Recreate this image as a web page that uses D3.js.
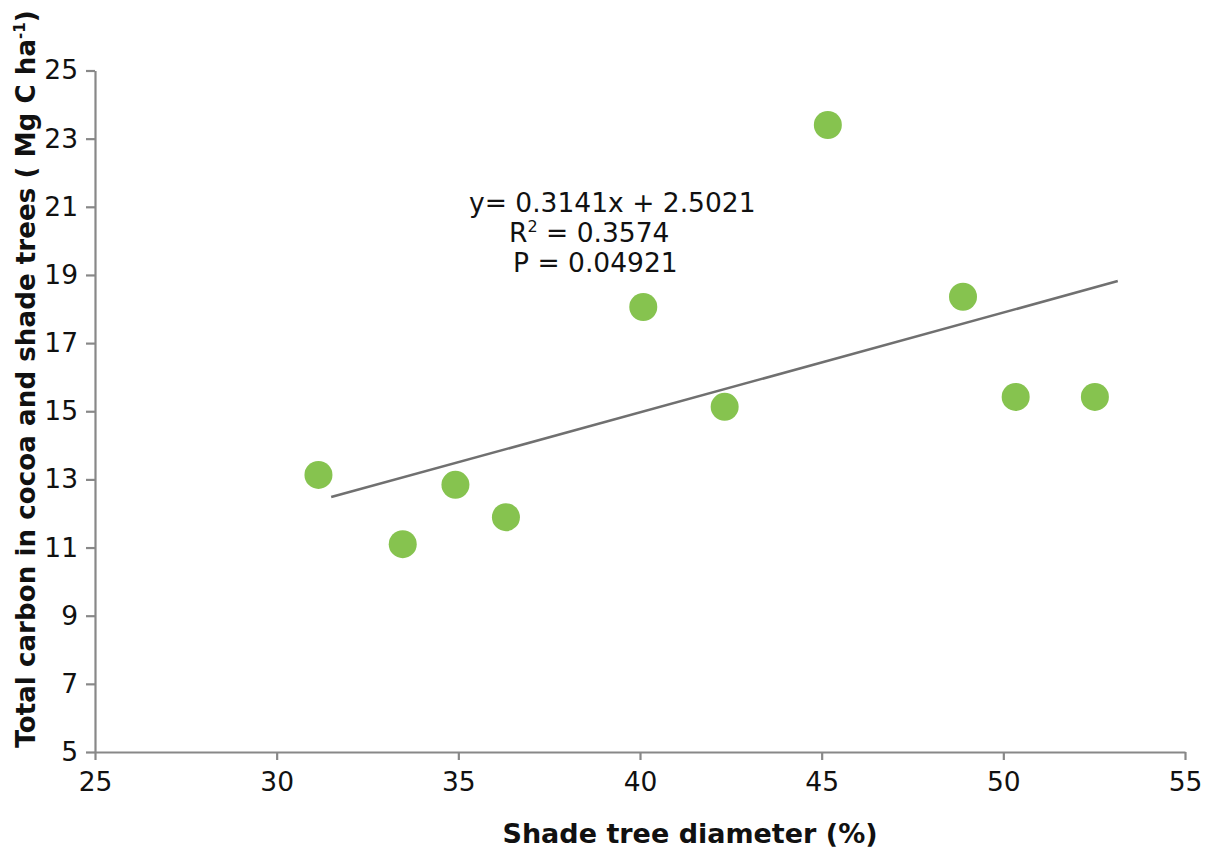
<!DOCTYPE html>
<html>
<head>
<meta charset="utf-8">
<script src="https://cdn.jsdelivr.net/npm/d3@7"></script>
<style>
  html, body { margin: 0; padding: 0; background: #fff; }
  svg { display: block; font-family: "DejaVu Sans", Verdana, sans-serif; }
</style>
</head>
<body>
<svg id="chart" width="1211" height="850"></svg>
<script>
// ---- data ----
const shadeDiameter = [31.15, 33.47, 34.92, 36.31, 40.09, 42.33, 45.17, 48.89, 50.34, 52.52];
const totalCarbon   = [13.13, 11.10, 12.84, 11.89, 18.06, 15.13, 23.40, 18.36, 15.42, 15.42];
const trendX = [31.50, 53.15];
const trendY = [12.48, 18.82];
const xTicks = [25, 30, 35, 40, 45, 50, 55];
const yTicks = [5, 7, 9, 11, 13, 15, 17, 19, 21, 23, 25];
const eqLines = ["y= 0.3141x + 2.5021", "R", "P = 0.04921"];

const svg = d3.select("#chart");
const x = d3.scaleLinear().domain([25, 55]).range([95, 1185]);
const y = d3.scaleLinear().domain([5, 25]).range([752, 70.5]);
const axisColor = "#888888";

// axes
const gx = svg.append("g").attr("transform", `translate(0,${y(5)})`)
  .call(d3.axisBottom(x).tickValues(xTicks).tickSize(8).tickPadding(12).tickSizeOuter(0));
const gy = svg.append("g").attr("transform", `translate(${x(25)},0)`)
  .call(d3.axisLeft(y).tickValues(yTicks).tickSize(9).tickPadding(8).tickSizeOuter(0));
[gx, gy].forEach(g => {
  g.select(".domain").attr("stroke", axisColor).attr("stroke-width", 2.2);
  g.selectAll(".tick line").attr("stroke", axisColor).attr("stroke-width", 2.2);
  g.selectAll(".tick text").attr("fill", "#111").style("font-size", "26.5px")
    .style("font-family", "'DejaVu Sans', Verdana, sans-serif");
});
gx.selectAll(".tick text").attr("dy", "0.71em");

// trend line
svg.append("line")
  .attr("x1", x(trendX[0])).attr("y1", y(trendY[0]))
  .attr("x2", x(trendX[1])).attr("y2", y(trendY[1]))
  .attr("stroke", "#707070").attr("stroke-width", 2.6);

// points
svg.append("g").selectAll("circle")
  .data(shadeDiameter.map((d, i) => [d, totalCarbon[i]]))
  .join("circle")
  .attr("cx", d => x(d[0])).attr("cy", d => y(d[1]))
  .attr("r", 14).attr("fill", "#86c34f");

// equation text
const eq = svg.append("g").style("font-size", "26.5px").attr("fill", "#111");
eq.append("text").attr("x", 469).attr("y", 212).text(eqLines[0]);
const r2 = eq.append("text").attr("x", 509).attr("y", 242);
r2.append("tspan").text("R");
r2.append("tspan").attr("dy", -10).style("font-size", "16px").text("2");
r2.append("tspan").attr("dy", 10).text(" = 0.3574");
eq.append("text").attr("x", 513).attr("y", 272).text(eqLines[2]);

// axis titles
svg.append("text")
  .attr("x", 690).attr("y", 843).attr("text-anchor", "middle")
  .style("font-size", "27px").style("font-weight", "bold").attr("fill", "#111")
  .text("Shade tree diameter (%)");

const yt = svg.append("text")
  .attr("transform", "translate(35,379) rotate(-90)")
  .attr("text-anchor", "middle")
  .style("font-size", "26.2px").style("font-weight", "bold").attr("fill", "#111");
yt.append("tspan").text("Total carbon in cocoa and shade trees ( Mg C ha");
yt.append("tspan").attr("dy", -10).style("font-size", "15px").text("-1");
yt.append("tspan").attr("dy", 10).text(")");
</script>
</body>
</html>
